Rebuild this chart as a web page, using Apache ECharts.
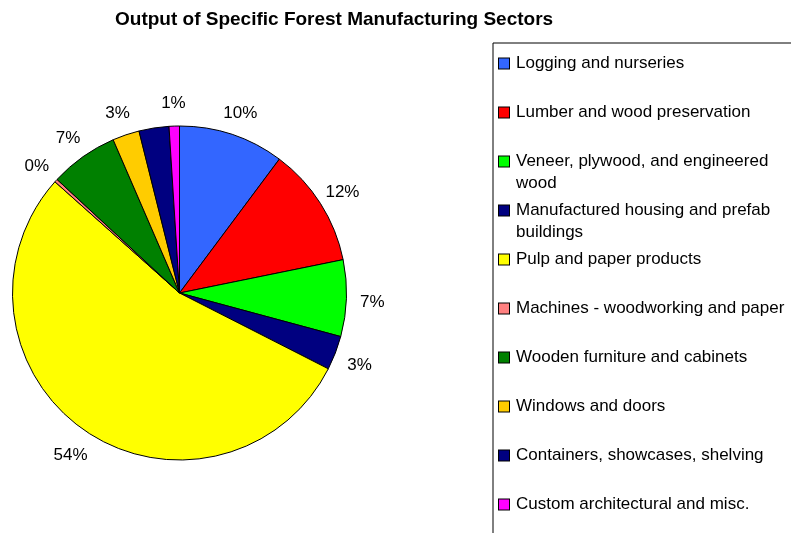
<!DOCTYPE html>
<html>
<head>
<meta charset="utf-8">
<script src="https://cdn.jsdelivr.net/npm/echarts@6/dist/echarts.min.js"></script>
<style>
html,body{margin:0;padding:0;background:#fff;}
#chart{width:791px;height:533px;}
</style>
</head>
<body>
<div id="chart"></div>
<script>
const titleText = 'Output of Specific Forest Manufacturing Sectors';
const categories = [
  'Logging and nurseries',
  'Lumber and wood preservation',
  'Veneer, plywood, and engineered\nwood',
  'Manufactured housing and prefab\nbuildings',
  'Pulp and paper products',
  'Machines - woodworking and paper',
  'Wooden furniture and cabinets',
  'Windows and doors',
  'Containers, showcases, shelving',
  'Custom architectural and misc.'
];
const shares = [10.2, 11.6, 7.4, 3.3, 54.1, 0.3, 6.6, 2.6, 2.9, 1.0];
const colors = ['#3366FF', '#FF0000', '#00FF00', '#000080', '#FFFF00', '#FF8080', '#008000', '#FFCC00', '#000080', '#FF00FF'];
// the reference shows no percentage label for "Containers, showcases, shelving"
const labelShown = [true, true, true, true, true, true, true, true, false, true];

const FONT = "'Liberation Sans', Arial, sans-serif";
const pieData = categories.map((n, i) => ({ name: n, value: shares[i], itemStyle: { color: colors[i] } }));
const labelData = categories.map((n, i) => ({ name: n, value: shares[i], label: { show: labelShown[i] } }));

const rich = {
  t: { fontFamily: FONT, fontSize: 17, color: '#000', lineHeight: 22 },
  g: { width: 7, height: 10, lineHeight: 22 },
  ind: { width: 17, height: 10, lineHeight: 22 }
};
colors.forEach((c, i) => {
  rich['c' + i] = { width: 10, height: 10, backgroundColor: c, borderColor: '#000', borderWidth: 1, lineHeight: 22 };
});

const chart = echarts.init(document.getElementById('chart'), null, { renderer: 'canvas' });
chart.setOption({
  backgroundColor: '#fff',
  animation: false,
  textStyle: { fontFamily: FONT },
  title: {
    text: titleText,
    left: 115,
    top: 10,
    padding: 0,
    textStyle: { fontFamily: FONT, fontSize: 19, fontWeight: 'bold', color: '#000' }
  },
  legend: {
    type: 'plain',
    orient: 'vertical',
    left: 493,
    top: 43,
    height: 2000,
    width: 400,
    padding: [12, 12, 8, 1],
    borderColor: '#000',
    borderWidth: 1,
    itemGap: 10,
    itemWidth: 0,
    itemHeight: 0,
    icon: 'none',
    selectedMode: false,
    data: categories,
    formatter: function (name) {
      const i = categories.indexOf(name);
      const parts = name.split('\n');
      return '{c' + i + '|}{g|}{t|' + parts[0] + '}\n{ind|}{t|' + (parts[1] || ' ') + '}';
    },
    textStyle: { fontFamily: FONT, fontSize: 17, color: '#000', rich: rich }
  },
  series: [
    {
      type: 'pie',
      center: [179.5, 293],
      radius: 167,
      startAngle: 90,
      clockwise: true,
      data: pieData,
      label: { show: false },
      labelLine: { show: false },
      itemStyle: { borderColor: '#000', borderWidth: 1 },
      emphasis: { disabled: true },
      silent: true
    },
    {
      type: 'pie',
      center: [179.5, 293],
      radius: [182, 198],
      startAngle: 90,
      clockwise: true,
      percentPrecision: 0,
      avoidLabelOverlap: false,
      data: labelData,
      itemStyle: { color: 'rgba(0,0,0,0)', borderWidth: 0 },
      label: {
        show: true,
        position: 'inside',
        formatter: '{d}%',
        fontFamily: FONT,
        fontSize: 17,
        color: '#000',
        rotate: 0,
        offset: [0, 3]
      },
      labelLayout: { hideOverlap: false },
      labelLine: { show: false },
      emphasis: { disabled: true },
      silent: true
    }
  ]
});
</script>
</body>
</html>
